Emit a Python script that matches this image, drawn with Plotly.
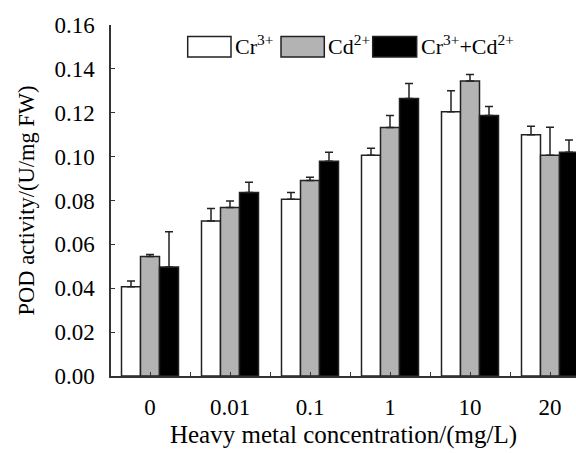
import plotly.graph_objects as go

# POD activity under heavy metal stress
concentrations = ["0", "0.01", "0.1", "1", "10", "20"]

cr_mean = [0.0407, 0.0707, 0.0806, 0.1006, 0.1205, 0.1100]
cr_err = [0.0026, 0.0056, 0.0030, 0.0032, 0.0095, 0.0039]

cd_mean = [0.0545, 0.0768, 0.0891, 0.1133, 0.1345, 0.1006]
cd_err = [0.0009, 0.0030, 0.0015, 0.0054, 0.0029, 0.0128]

mix_mean = [0.0497, 0.0836, 0.0979, 0.1265, 0.1188, 0.1020]
mix_err = [0.0160, 0.0047, 0.0041, 0.0068, 0.0040, 0.0056]

series_names = ["Cr<sup>3+</sup>", "Cd<sup>2+</sup>", "Cr<sup>3+</sup>+Cd<sup>2+</sup>"]
fills = ["#ffffff", "#b3b3b3", "#000000"]

FONT = "Liberation Serif, Times New Roman, serif"
xpos = list(range(len(concentrations)))

fig = go.Figure()
for name, means, errs, fill in zip(series_names,
                                   [cr_mean, cd_mean, mix_mean],
                                   [cr_err, cd_err, mix_err],
                                   fills):
    fig.add_trace(go.Bar(
        x=xpos, y=means, name=name,
        marker=dict(color=fill, line=dict(color="#222222", width=1.5)),
        error_y=dict(type="data", symmetric=False, array=errs,
                     arrayminus=[0] * len(errs),
                     color="#222222", thickness=1.5, width=4),
        showlegend=False,
    ))

# legend keys drawn as wide boxes with labels beside them
legend_boxes = [(187.7, 231.0), (281.0, 324.3), (372.7, 416.7)]
W, H = 576, 453
for (x0, x1), fill, name in zip(legend_boxes, fills, series_names):
    fig.add_shape(type="rect", xref="paper", yref="paper",
                  x0=(x0 - 111) / (W - 111), x1=(x1 - 111) / (W - 111),
                  y0=(376.5 - 56.5) / 352, y1=(376.5 - 36) / 352,
                  fillcolor=fill, line=dict(color="#222222", width=1.5))
    fig.add_annotation(xref="paper", yref="paper",
                       x=(x1 + 2 - 111) / (W - 111), y=(376.5 - 45) / 352,
                       xanchor="left", yanchor="middle", showarrow=False,
                       text=name, font=dict(family=FONT, size=22, color="#000"))

fig.update_layout(
    width=W, height=H,
    margin=dict(l=111, r=0, t=24.5, b=76.5),
    paper_bgcolor="white", plot_bgcolor="white",
    barmode="group", bargap=0.2875, bargroupgap=0,
    font=dict(family=FONT, size=23, color="#000"),
    xaxis=dict(
        range=[-0.4875, 5.325],
        tickvals=xpos, ticktext=concentrations,
        ticks="inside", ticklen=4, tickwidth=1.2, tickcolor="#333",
        minor=dict(tick0=0.5, dtick=1, ticks="inside", ticklen=4,
                   tickwidth=1.2, tickcolor="#333"),
        showline=True, linecolor="#333", linewidth=1.5,
        showgrid=False, zeroline=False,
        ticklabelstandoff=10,
        tickfont=dict(family=FONT, size=23),
        title=dict(text="Heavy metal concentration/(mg/L)", standoff=6,
                   font=dict(family=FONT, size=25)),
    ),
    yaxis=dict(
        range=[0, 0.16], dtick=0.02, tickformat=".2f",
        ticks="inside", ticklen=4, tickwidth=1.2, tickcolor="#333",
        showline=True, linecolor="#333", linewidth=1.5,
        showgrid=False, zeroline=False,
        ticklabelstandoff=10,
        tickfont=dict(family=FONT, size=23),
        title=dict(text="POD activity/(U/mg FW)", standoff=14,
                   font=dict(family=FONT, size=22.5)),
    ),
)

fig.write_html("out.html")
